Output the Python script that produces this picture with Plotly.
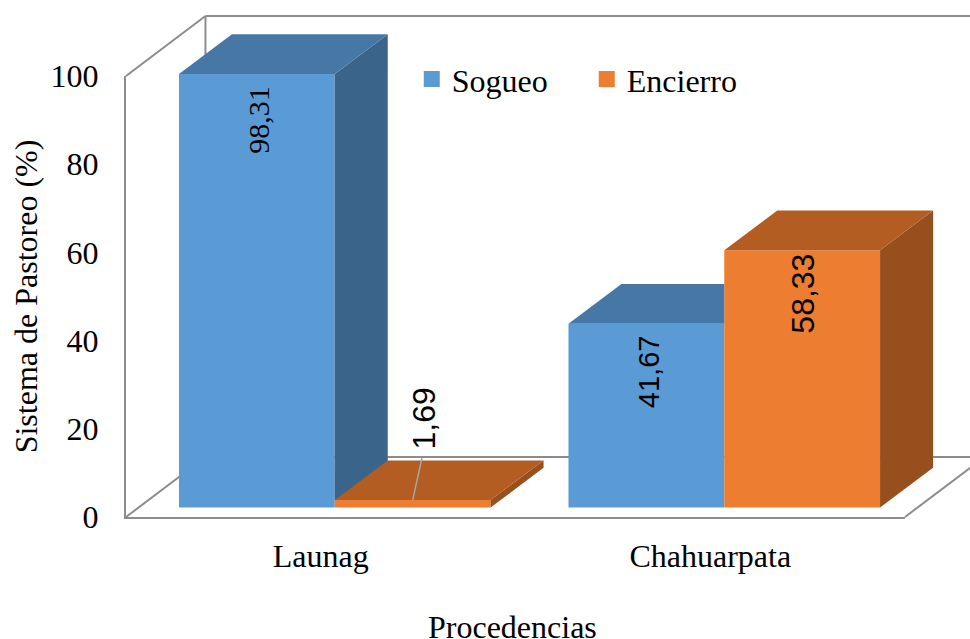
import plotly.graph_objects as go

# Data
categories = ["Launag", "Chahuarpata"]
sogueo = [98.31, 41.67]
encierro = [1.69, 58.33]
y_ticks = [0, 20, 40, 60, 80, 100]

BLUE, BLUE_TOP, BLUE_SIDE = "#5B9BD5", "#4778A5", "#3A6489"
ORANGE, ORANGE_TOP, ORANGE_SIDE = "#ED7D31", "#B35D22", "#984F1E"
GRID = "#8C8C8C"
SERIF = "Liberation Serif"
SANS = "Liberation Sans"

# Page layout: front face of the chart box, in pixels
W, H = 970, 639
LEFT, RIGHT, TOP, BOTTOM = 126, 905, 76, 517

# Oblique projection, expressed in axis units
BAR_W = 0.4
BAR_DX, BAR_DY = 0.136, 9.0      # depth of a bar
WALL_DX, WALL_DY = 0.204, 13.6   # depth of the chart box
SHIFT_X, SHIFT_Y = 0.036, 2.15   # bars stand slightly behind the front edge
X0, X1 = -0.5, 1.5
Y0, Y1 = 0, 100

# The drawing axes use the same units as the visible ones but span the whole page,
# so the box and bars can project past the front face.
px_x = (RIGHT - LEFT) / (X1 - X0)
px_y = (BOTTOM - TOP) / (Y1 - Y0)
draw_x_range = [X0 - LEFT / px_x, X1 + (W - RIGHT) / px_x]
draw_y_range = [Y0 - (H - BOTTOM) / px_y, Y1 + TOP / px_y]

fig = go.Figure()


def face(xs, ys, color):
    fig.add_trace(go.Scatter(x=xs, y=ys, xaxis="x2", yaxis="y2", mode="lines", fill="toself",
                             fillcolor=color, line=dict(width=0, color=color),
                             showlegend=False, hoverinfo="skip"))


def draw_front(name, values, offset, color):
    xs = [i + SHIFT_X for i in range(len(values))]
    fig.add_trace(go.Bar(name=name, x=xs, y=values, base=[SHIFT_Y] * len(values),
                         xaxis="x2", yaxis="y2", width=BAR_W, offset=offset,
                         marker=dict(color=color, line=dict(width=0)), showlegend=False))


def draw_faces(values, offset, top, side, neighbour=None):
    """Side and top of each bar; `neighbour` is the series standing directly to the right."""
    for i, v in enumerate(values):
        left = i + SHIFT_X + offset
        right = left + BAR_W
        y0 = SHIFT_Y
        y1 = SHIFT_Y + v
        h = neighbour[i] if neighbour else 0.0
        if h >= v:
            # The taller neighbour hides the side and part of the top
            face([left, right, right, left + BAR_DX, left],
                 [y1, y1, y1 + BAR_DY, y1 + BAR_DY, y1], top)
            continue
        # Side face, cut where the neighbour's front and top hide it
        cut = min(h / BAR_DY, 1.0) * BAR_DX
        face([right, right + cut, right + BAR_DX, right + BAR_DX, right, right],
             [y0 + h, y0 + h, y0 + BAR_DY, y1 + BAR_DY, y1, y0 + h], side)
        face([left, right, right + BAR_DX, left + BAR_DX, left],
             [y1, y1, y1 + BAR_DY, y1 + BAR_DY, y1], top)


def legend_key(name, color):
    fig.add_trace(go.Scatter(name=name, x=[None], y=[None], mode="markers",
                             marker=dict(symbol="square", size=16, color=color)))


def wall(x0, y0, x1, y1):
    fig.add_shape(type="line", xref="x2", yref="y2", x0=x0, y0=y0, x1=x1, y1=y1,
                  layer="below", line=dict(color=GRID, width=2))


# Chart box: side wall, back wall edges and floor, all behind the bars
wall(X0, Y1, X0 + WALL_DX, Y1 + WALL_DY)
wall(X0 + WALL_DX, Y1 + WALL_DY, X0 + WALL_DX, Y0 + WALL_DY)
wall(X0 + WALL_DX, Y0 + WALL_DY, X0, Y0)
wall(X0 + WALL_DX, Y1 + WALL_DY, X1 + WALL_DX, Y1 + WALL_DY)
wall(X0 + WALL_DX, Y0 + WALL_DY, X1 + WALL_DX, Y0 + WALL_DY)
wall(X1, Y0, X1 + WALL_DX, Y0 + WALL_DY)

legend_key("Sogueo", BLUE)
legend_key("Encierro", ORANGE)
draw_front("Sogueo", sogueo, -BAR_W, BLUE)
draw_front("Encierro", encierro, 0.0, ORANGE)
draw_faces(sogueo, -BAR_W, BLUE_TOP, BLUE_SIDE, neighbour=encierro)
draw_faces(encierro, 0.0, ORANGE_TOP, ORANGE_SIDE)


def fmt(v):
    return f"{v:.2f}".replace(".", ",")


def value_label(x, y, v, family, size):
    fig.add_annotation(x=x, y=y, xref="x2", yref="y2", text=fmt(v), textangle=-90,
                       showarrow=False, xanchor="center", yanchor="middle",
                       font=dict(family=family, size=size, color="#000000"))


# Data labels, set just under each bar top
value_label(0 + SHIFT_X - BAR_W / 2 + 0.005, SHIFT_Y + sogueo[0] - 10.4, sogueo[0], SERIF, 30)
value_label(1 + SHIFT_X - BAR_W / 2 + 0.005, SHIFT_Y + sogueo[1] - 10.9, sogueo[1], SANS, 29)
value_label(1 + SHIFT_X + BAR_W / 2, SHIFT_Y + encierro[1] - 9.8, encierro[1], SANS, 32)

# The small bar carries its label above, joined by a leader line
small_x = 0 + SHIFT_X + BAR_W / 2
small_top = SHIFT_Y + encierro[0]
fig.add_trace(go.Scatter(x=[small_x, small_x + 0.024], y=[small_top, small_top + 9.6],
                         xaxis="x2", yaxis="y2", mode="lines",
                         line=dict(color="#A6A6A6", width=1.5), showlegend=False, hoverinfo="skip"))
value_label(small_x + 0.028, small_top + 18.4, encierro[0], SANS, 32)

# Category axis title sits close to the page edge, so it is placed directly
fig.add_annotation(x=512 / W, y=(H - 627) / H, xref="paper", yref="paper", text="Procedencias",
                   showarrow=False, xanchor="center", yanchor="middle",
                   font=dict(family=SERIF, size=32, color="#000000"))

fig.update_layout(
    width=W, height=H,
    margin=dict(l=0, r=0, t=0, b=0),
    paper_bgcolor="#FFFFFF", plot_bgcolor="rgba(0,0,0,0)",
    barmode="overlay",
    font=dict(family=SERIF, color="#000000"),
    legend=dict(orientation="h", x=0.4245, y=0.919, xanchor="left", yanchor="top",
                font=dict(family=SERIF, size=32), bgcolor="rgba(0,0,0,0)",
                entrywidth=130, entrywidthmode="pixels", traceorder="normal"),
    xaxis=dict(domain=[LEFT / W, RIGHT / W], range=[X0, X1], tickvals=[0, 1], ticktext=categories,
               automargin=False, showgrid=False, zeroline=False, showline=True,
               linecolor=GRID, linewidth=2, ticks="outside", ticklen=10,
               tickcolor="rgba(0,0,0,0)", tickfont=dict(family=SERIF, size=32)),
    yaxis=dict(domain=[(H - BOTTOM) / H, (H - TOP) / H], range=[Y0, Y1], tickvals=y_ticks,
               automargin=False, showgrid=False, zeroline=False, showline=True,
               linecolor=GRID, linewidth=2, ticks="outside", ticklen=19,
               tickcolor="rgba(0,0,0,0)", tickfont=dict(family=SERIF, size=32),
               title=dict(text="Sistema de Pastoreo (%)", font=dict(family=SERIF, size=32), standoff=3)),
    xaxis2=dict(domain=[0, 1], range=draw_x_range, visible=False, anchor="y2"),
    yaxis2=dict(domain=[0, 1], range=draw_y_range, visible=False, anchor="x2"),
)

fig.write_html("out.html")
